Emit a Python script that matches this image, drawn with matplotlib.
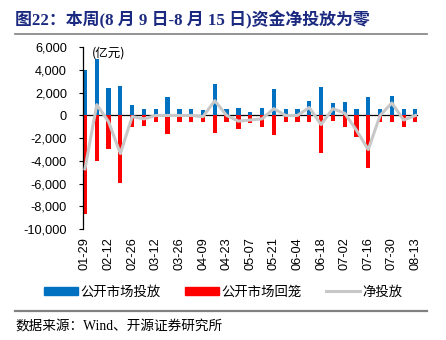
import matplotlib.pyplot as plt
from matplotlib.patches import Patch
from matplotlib.lines import Line2D
import numpy as np

plt.rcParams['font.family'] = ['Liberation Sans', 'Noto Sans CJK SC', 'DejaVu Sans']

dates = ['01-29', '02-05', '02-12', '02-19', '02-26', '03-05', '03-12', '03-19',
         '03-26', '04-02', '04-09', '04-16', '04-23', '04-30', '05-07', '05-14',
         '05-21', '05-28', '06-04', '06-11', '06-18', '06-25', '07-02', '07-09',
         '07-16', '07-23', '07-30', '08-06', '08-13']
inject = [4000, 4950, 2400, 2600, 900, 600, 600, 1600, 600, 600, 500, 2800, 600,
          700, 300, 700, 2300, 600, 600, 1300, 2500, 1100, 1200, 600, 1600, 600,
          1700, 600, 600]
withdraw = [-8700, -4000, -2950, -5950, -1000, -900, -600, -1600, -600, -600, -600,
            -1500, -600, -1200, -700, -1000, -1700, -600, -600, -600, -3300, -500,
            -1000, -1900, -4600, -600, -600, -1000, -600]
net = [a + b for a, b in zip(inject, withdraw)]

x = np.arange(len(dates))

fig = plt.figure(figsize=(4.46, 3.40), dpi=100)
ax = fig.add_axes([0.186, 0.326, 0.749, 0.535])

ax.bar(x, inject, width=0.36, color='#0070C0', zorder=2)
ax.bar(x, withdraw, width=0.36, color='#FF0000', zorder=2)
ax.plot(x, net, color='#C8C8C8', lw=2.2, zorder=3)

ax.set_xlim(-0.17, 28.13)
ax.set_ylim(-10000, 6000)
ax.set_yticks(np.arange(-10000, 6001, 2000))
ax.set_yticklabels([f'{v:,}' for v in range(-10000, 6001, 2000)], fontsize=9.2)
ax.tick_params(axis='y', direction='out', length=3, width=0.8, pad=8.5)

for s in ['top', 'right']:
    ax.spines[s].set_visible(False)
ax.spines['left'].set_linewidth(0.9)
ax.spines['bottom'].set_position(('data', 0))
ax.spines['bottom'].set_linewidth(0.9)
ax.spines['bottom'].set_zorder(1)
ax.set_xticks(x[::2])
ax.tick_params(axis='x', direction='out', length=3, width=0.8, labelbottom=False)

sec = ax.secondary_xaxis(0)
sec.set_xticks(x[::2])
sec.set_xticklabels(dates[::2], rotation=90, fontsize=9.2)
sec.tick_params(length=0, pad=6)
sec.spines['bottom'].set_visible(False)

ax.text(0.55, 5500, '(亿元)', fontsize=9, va='center', ha='left',
        family=['Noto Sans CJK SC'])

fig.text(0.034, 0.94, '图22：本周(8 月 9 日-8 月 15 日)资金净投放为零', fontsize=12.2,
         fontweight='bold', color='#1B2A80', va='center',
         family=['Liberation Serif', 'Noto Sans CJK SC'])
fig.add_artist(Line2D([0.034, 0.957], [0.9, 0.9], color='#808080', lw=1.2))
fig.add_artist(Line2D([0.034, 0.957], [0.086, 0.086], color='#808080', lw=1.6))
fig.text(0.034, 0.038, '数据来源：Wind、开源证券研究所', fontsize=9.8, va='center',
         family=['Liberation Serif', 'Noto Sans CJK SC'])

handles = [Patch(color='#0070C0'), Patch(color='#FF0000'),
           Line2D([], [], color='#C8C8C8', lw=2.2)]
fig.legend(handles, ['公开市场投放', '公开市场回笼', '净投放'], loc='center',
           bbox_to_anchor=(0.5, 0.143), ncol=3, frameon=False,
           prop={'family': ['Noto Sans CJK SC'], 'size': 9.6},
           handlelength=2.6, handleheight=0.55, handletextpad=0.15,
           columnspacing=1.8)

fig.savefig('out.png', dpi=100)
